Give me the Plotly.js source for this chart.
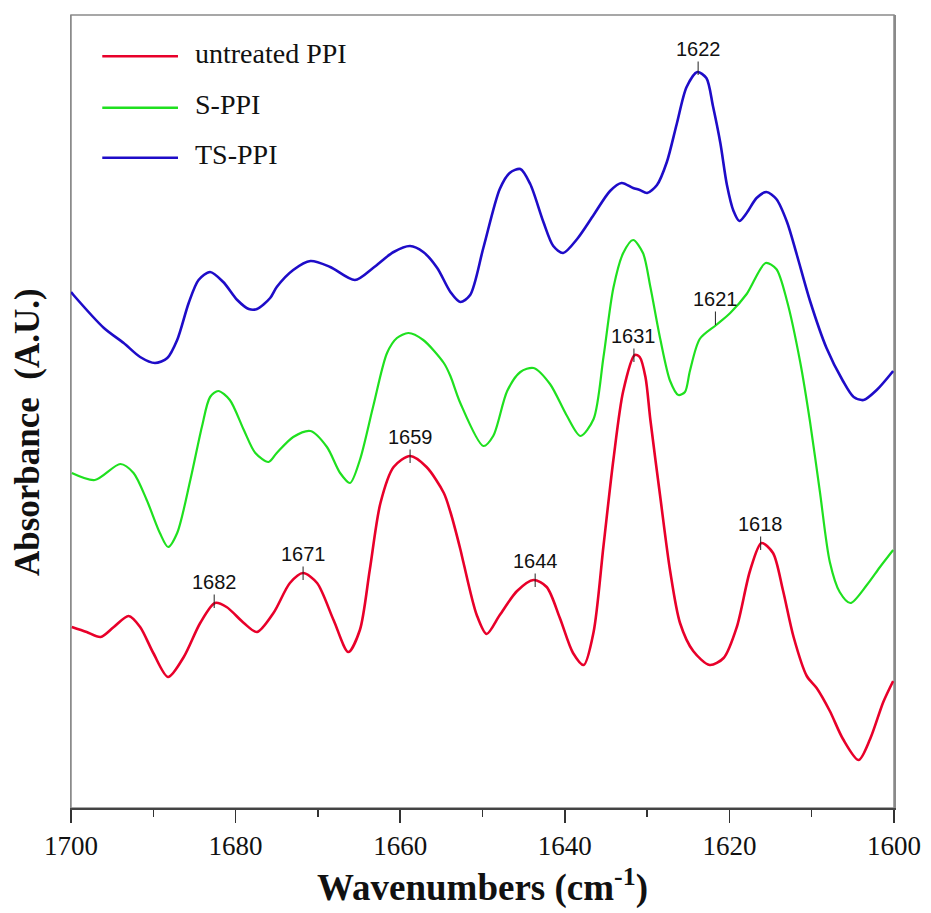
<!DOCTYPE html>
<html>
<head>
<meta charset="utf-8">
<script src="https://cdn.plot.ly/plotly-3.0.1.min.js"></script>
<style>html,body{margin:0;padding:0;background:#fff;}#chart{width:931px;height:913px;}</style>
</head>
<body>
<div id="chart"></div>
<script>
// Wavenumbers (cm-1) and absorbance (arbitrary units, curves offset vertically)
const redWn = [1699.9,1698.1,1696.4,1694.8,1693.0,1691.6,1690.0,1688.2,1686.3,1684.3,1682.5,1681.1,1679.0,1677.4,1675.4,1673.4,1671.8,1670.1,1668.1,1666.3,1664.9,1663.7,1662.4,1660.8,1658.8,1656.8,1654.7,1653.9,1652.7,1652.3,1650.7,1649.5,1647.9,1645.8,1643.8,1642.2,1640.6,1639.0,1637.7,1636.5,1635.3,1634.1,1632.9,1631.5,1630.9,1630.2,1629.6,1628.4,1627.2,1626.0,1624.4,1622.4,1620.7,1619.1,1617.5,1616.1,1614.7,1613.5,1612.2,1610.6,1609.4,1607.8,1606.2,1604.3,1602.9,1601.3,1600.1];
const redAbs = [0.181,0.176,0.171,0.181,0.192,0.181,0.155,0.131,0.151,0.185,0.205,0.201,0.185,0.176,0.195,0.225,0.235,0.225,0.188,0.156,0.178,0.238,0.305,0.341,0.352,0.341,0.315,0.296,0.259,0.245,0.193,0.174,0.193,0.217,0.228,0.221,0.190,0.155,0.143,0.176,0.262,0.348,0.417,0.453,0.451,0.431,0.388,0.311,0.237,0.185,0.157,0.143,0.150,0.181,0.237,0.265,0.255,0.218,0.171,0.132,0.120,0.097,0.069,0.048,0.069,0.106,0.127];

const greenWn = [1699.9,1697.1,1694.0,1692.4,1690.8,1689.2,1688.2,1687.1,1685.5,1684.1,1683.1,1682.1,1680.7,1679.0,1677.6,1676.0,1675.0,1673.0,1670.9,1668.9,1667.3,1666.1,1664.9,1663.3,1661.6,1660.4,1659.0,1657.2,1654.7,1653.9,1652.7,1649.9,1648.7,1647.0,1645.4,1643.8,1641.8,1639.8,1638.1,1636.5,1635.3,1634.1,1632.9,1631.7,1630.5,1629.6,1628.4,1627.2,1626.2,1625.4,1624.8,1623.6,1621.6,1619.9,1617.9,1615.6,1614.3,1613.0,1611.4,1610.2,1609.0,1607.8,1606.6,1605.3,1603.3,1601.7,1600.1];
const greenAbs = [0.335,0.328,0.344,0.335,0.308,0.275,0.261,0.275,0.328,0.381,0.411,0.417,0.408,0.378,0.355,0.346,0.355,0.371,0.377,0.361,0.335,0.325,0.348,0.401,0.455,0.470,0.475,0.468,0.445,0.432,0.405,0.362,0.372,0.417,0.436,0.440,0.424,0.393,0.372,0.389,0.451,0.520,0.555,0.568,0.555,0.521,0.469,0.427,0.413,0.416,0.437,0.469,0.483,0.495,0.514,0.545,0.539,0.507,0.446,0.386,0.316,0.246,0.216,0.205,0.223,0.241,0.258];

const blueWn = [1700.0,1699.7,1696.0,1693.6,1691.6,1689.8,1688.3,1687.1,1685.7,1684.5,1683.1,1681.5,1679.8,1678.4,1677.4,1675.8,1675.0,1673.0,1670.9,1668.5,1665.5,1663.3,1660.8,1658.8,1657.2,1655.5,1653.9,1652.7,1651.5,1649.9,1647.9,1646.7,1645.4,1644.2,1642.6,1641.4,1640.2,1638.5,1636.5,1634.5,1633.1,1631.7,1630.9,1630.0,1628.8,1627.6,1626.4,1625.2,1623.9,1622.8,1622.0,1621.1,1620.3,1619.5,1618.8,1617.9,1616.7,1615.5,1614.3,1613.0,1611.8,1610.2,1608.2,1606.2,1604.9,1603.7,1602.1,1600.1];
const blueAbs = [0.516,0.513,0.480,0.465,0.451,0.445,0.450,0.468,0.505,0.528,0.536,0.526,0.508,0.499,0.499,0.510,0.521,0.538,0.547,0.541,0.528,0.540,0.556,0.562,0.556,0.540,0.516,0.506,0.513,0.560,0.619,0.635,0.639,0.624,0.586,0.562,0.555,0.569,0.593,0.617,0.625,0.620,0.618,0.615,0.623,0.646,0.684,0.721,0.736,0.730,0.702,0.665,0.623,0.597,0.587,0.595,0.610,0.616,0.609,0.586,0.553,0.507,0.460,0.427,0.411,0.408,0.418,0.437];

const seriesNames = ['untreated PPI', 'S-PPI', 'TS-PPI'];
const seriesColors = ['#e8002a', '#1fe01f', '#1e0cc8'];

// Peak labels
const peakLabels = ['1622', '1621', '1631', '1659', '1671', '1682', '1644', '1618'];
const peakWn = [1623.8, 1621.7, 1631.6, 1658.8, 1671.8, 1682.6, 1643.6, 1616.2];
const peakAbs = [0.733, 0.483, 0.446, 0.345, 0.228, 0.200, 0.221, 0.258];

const xTicks = [1700, 1680, 1660, 1640, 1620, 1600];

const serif = 'Liberation Serif, Times New Roman, serif';
const sans = 'Liberation Sans, Arial, sans-serif';

const traces = [
  {x: redWn, y: redAbs, name: seriesNames[0], color: seriesColors[0], w: 2.6},
  {x: greenWn, y: greenAbs, name: seriesNames[1], color: seriesColors[1], w: 2.2},
  {x: blueWn, y: blueAbs, name: seriesNames[2], color: seriesColors[2], w: 2.6}
].map(s => ({
  type: 'scatter', mode: 'lines', x: s.x, y: s.y, name: s.name,
  line: {color: s.color, width: s.w, shape: 'spline', smoothing: 0.8},
  showlegend: false, hoverinfo: 'x+y+name'
}));

const annotations = peakLabels.map((t, i) => ({
  x: peakWn[i], y: peakAbs[i], xref: 'x', yref: 'y', text: t,
  showarrow: true, arrowhead: 0, arrowwidth: 1, arrowcolor: '#222',
  ax: 0, ay: -26, standoff: 0,
  font: {family: sans, size: 20, color: '#111'}
}));

// y-axis title (placed as in the original, slightly below the axis centre)
annotations.push({
  xref: 'paper', yref: 'paper', x: -0.0535, y: 0.474, xanchor: 'center', yanchor: 'middle',
  showarrow: false, textangle: -90,
  text: '<b>Absorbance\u00a0\u00a0(A.U.)</b>',
  font: {family: serif, size: 35, color: '#111'}
});

// manual legend (long line samples like the original)
const legendY = [0.948, 0.883, 0.820];
const shapes = [
  {type: 'rect', xref: 'paper', yref: 'paper', x0: 0, x1: 1, y0: 0, y1: 1,
   line: {color: '#8a8a8a', width: 1.5}, layer: 'below'}
];
seriesNames.forEach((n, i) => {
  shapes.push({type: 'line', xref: 'paper', yref: 'paper', x0: 0.038, x1: 0.130,
    y0: legendY[i], y1: legendY[i], line: {color: seriesColors[i], width: 2.6}});
  annotations.push({xref: 'paper', yref: 'paper', x: 0.148, y: legendY[i] + 0.004,
    xanchor: 'left', yanchor: 'middle', showarrow: false, text: n,
    font: {family: serif, size: 28, color: '#111'}});
});

const layout = {
  width: 931, height: 913,
  margin: {l: 71, r: 37, t: 15, b: 105},
  paper_bgcolor: '#fff', plot_bgcolor: '#fff',
  showlegend: false,
  xaxis: {
    range: [1700, 1600], tickvals: xTicks, ticktext: xTicks.map(String),
    ticks: 'outside', ticklen: 13, tickwidth: 1.5, tickcolor: '#333',
    minor: {dtick: 10, ticks: 'outside', ticklen: 7, tickwidth: 1.5, tickcolor: '#333'},
    showline: true, linecolor: '#444', linewidth: 1.5, mirror: false,
    showgrid: false, zeroline: false,
    tickfont: {family: serif, size: 27, color: '#111'},
    title: {text: '<b>Wavenumbers (cm<sup>-1</sup>)</b>', font: {family: serif, size: 37, color: '#111'}, standoff: 14}
  },
  yaxis: {
    range: [0, 0.793], showticklabels: false, ticks: '', showgrid: false, zeroline: false,
    showline: true, linecolor: '#8a8a8a', linewidth: 1.5, mirror: true
  },
  shapes: shapes,
  annotations: annotations
};

Plotly.newPlot('chart', traces, layout, {displayModeBar: false, staticPlot: true});
</script>
</body>
</html>
